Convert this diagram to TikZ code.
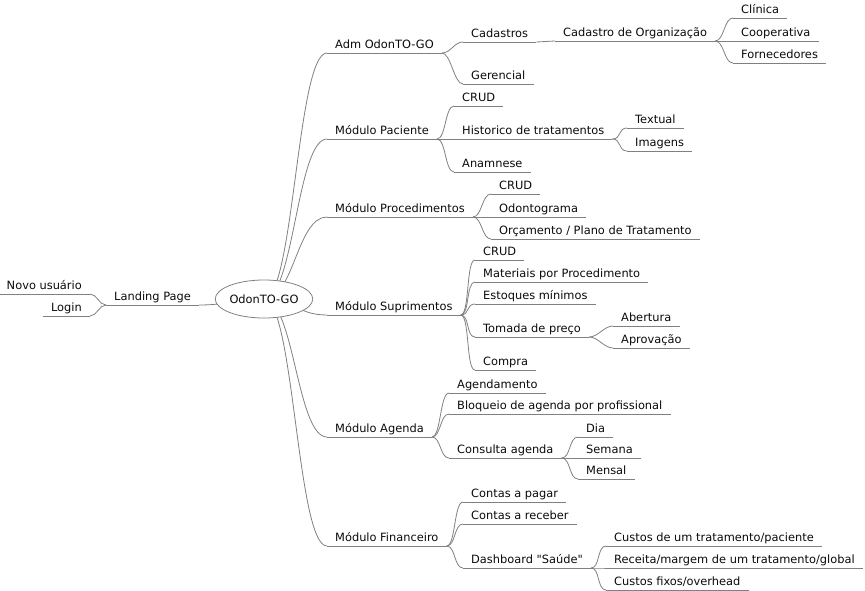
\documentclass[tikz,border=0pt]{standalone}
\usepackage{fontspec}
\setmainfont{DejaVu Sans}[Ligatures=TeXOff]
\usetikzlibrary{shapes.geometric,backgrounds}
\definecolor{edgegray}{RGB}{128,128,128}
\definecolor{txt}{RGB}{10,10,10}
\begin{document}
\begin{tikzpicture}[x=1pt,y=-1pt,
  lnk/.style={draw=edgegray, line width=0.8pt},
  mm/.style={anchor=south west, inner xsep=8pt, inner ysep=1.5pt, text height=8.5pt, text depth=2.5pt, font=\fontsize{11.4}{13}\selectfont, text=txt},
  mml/.style={mm, anchor=south east},
  rootstyle/.style={ellipse, draw=edgegray, line width=0.8pt, fill=white, minimum width=94pt, minimum height=38pt, inner sep=0pt, font=\fontsize{11.4}{13}\selectfont, text=txt}
]
\useasboundingbox (0,0) rectangle (865,591);

\node[rootstyle] (root) at (264,299) {OdonTO-GO};

\node[mm] (land) at (106,305) {Landing Page};
\node[mml] (novo) at (90,294) {Novo usuário};
\node[mml] (login) at (90,316) {Login};

\node[mm] (adm) at (327,53) {Adm OdonTO-GO};
\node[mm] (cad) at (463,42) {Cadastros};
\node[mm] (org) at (555,41) {Cadastro de Organização};
\node[mm] (cli) at (733,18) {Clínica};
\node[mm] (coop) at (733,41) {Cooperativa};
\node[mm] (forn) at (733,63) {Fornecedores};
\node[mm] (ger) at (463,84) {Gerencial};

\node[mm] (pac) at (327,139) {Módulo Paciente};
\node[mm] (pcrud) at (454,106) {CRUD};
\node[mm] (hist) at (454,139) {Historico de tratamentos};
\node[mm] (txtl) at (627,128) {Textual};
\node[mm] (img) at (627,151) {Imagens};
\node[mm] (anam) at (454,172) {Anamnese};

\node[mm] (proc) at (327,217) {Módulo Procedimentos};
\node[mm] (prcrud) at (491,194) {CRUD};
\node[mm] (odonto) at (491,217) {Odontograma};
\node[mm] (orc) at (491,239) {Orçamento / Plano de Tratamento};

\node[mm] (sup) at (327,315) {Módulo Suprimentos};
\node[mm] (scrud) at (475,260) {CRUD};
\node[mm] (mat) at (475,282) {Materiais por Procedimento};
\node[mm] (est) at (475,304) {Estoques mínimos};
\node[mm] (tom) at (475,337) {Tomada de preço};
\node[mm] (abe) at (613,326) {Abertura};
\node[mm] (apr) at (613,348) {Aprovação};
\node[mm] (comp) at (475,370) {Compra};

\node[mm] (age) at (327,437) {Módulo Agenda};
\node[mm] (agd) at (449,393) {Agendamento};
\node[mm] (bloq) at (449,414) {Bloqueio de agenda por profissional};
\node[mm] (cons) at (449,458) {Consulta agenda};
\node[mm] (dia) at (578,437) {Dia};
\node[mm] (sem) at (578,458) {Semana};
\node[mm] (men) at (578,479) {Mensal};

\node[mm] (fin) at (327,546) {Módulo Financeiro};
\node[mm] (pag) at (463,502) {Contas a pagar};
\node[mm] (rec) at (463,524) {Contas a receber};
\node[mm] (dash) at (463,568) {Dashboard "Saúde"};
\node[mm] (cus) at (606,546) {Custos de um tratamento/paciente};
\node[mm] (receita) at (606,568) {Receita/margem de um tratamento/global};
\node[mm] (fixo) at (606,590) {Custos fixos/overhead};

% underlines
\foreach \n in {land,novo,login,adm,cad,org,cli,coop,forn,ger,pac,pcrud,hist,txtl,img,anam,proc,prcrud,odonto,orc,sup,scrud,mat,est,tom,abe,apr,comp,age,agd,bloq,cons,dia,sem,men,fin,pag,rec,dash,cus,receita,fixo}
  \draw[lnk] (\n.south west) -- (\n.south east);

\begin{pgfonlayer}{background}
  % root connectors
  \foreach \c in {adm,pac,proc,sup,age,fin}
    \draw[lnk] (root.center) .. controls +(30,0) and +(-30,0) .. (\c.south west);
  \draw[lnk] (root.center) .. controls +(-30,0) and +(30,0) .. (land.south east);
  % left connectors
  \foreach \c in {novo,login}
    \draw[lnk] (land.south west) .. controls +(-7,0) and +(7,0) .. (\c.south east);
  % right connectors
  \foreach \p/\c in {adm/cad,adm/ger,cad/org,org/cli,org/coop,org/forn,
                     pac/pcrud,pac/hist,pac/anam,hist/txtl,hist/img,
                     proc/prcrud,proc/odonto,proc/orc,
                     sup/scrud,sup/mat,sup/est,sup/tom,sup/comp,tom/abe,tom/apr,
                     age/agd,age/bloq,age/cons,cons/dia,cons/sem,cons/men,
                     fin/pag,fin/rec,fin/dash,dash/cus,dash/receita,dash/fixo}
    \draw[lnk] (\p.south east) .. controls +(9,0) and +(-9,0) .. (\c.south west);
\end{pgfonlayer}
\end{tikzpicture}
\end{document}
